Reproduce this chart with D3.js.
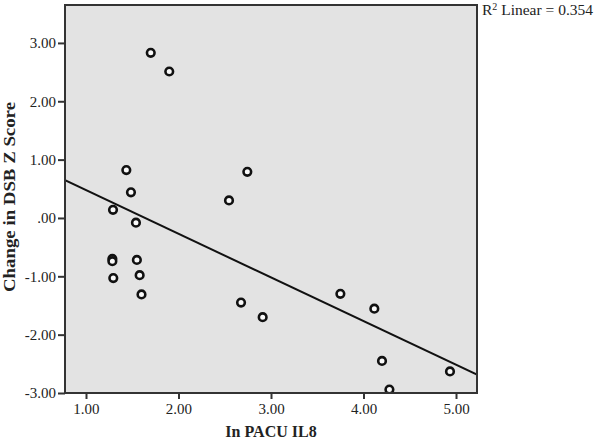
<!DOCTYPE html>
<html>
<head>
<meta charset="utf-8">
<script src="https://cdn.jsdelivr.net/npm/d3@7"></script>
<style>
  html, body { margin: 0; padding: 0; background: #fff; }
  svg { display: block; }
  text { font-family: "Liberation Serif", "DejaVu Serif", serif; fill: #222; }
</style>
</head>
<body>
<svg id="chart" width="600" height="442"></svg>
<script>
// ---- data ----
const xValues = [1.70, 1.90, 1.436, 2.744, 1.486, 2.546, 1.292, 1.54, 1.285, 1.285, 1.55,
                 1.295, 1.58, 1.60, 2.676, 2.91, 3.75, 4.117, 4.20, 4.28, 4.935];
const yValues = [2.83, 2.51, 0.82, 0.79, 0.44, 0.30, 0.14, -0.08, -0.70, -0.74, -0.72,
                 -1.03, -0.98, -1.31, -1.45, -1.70, -1.30, -1.555, -2.45, -2.94, -2.63];
const xTicks = [1, 2, 3, 4, 5];
const yTicks = [3, 2, 1, 0, -1, -2, -3];
const xTitle = "In PACU IL8";
const yTitle = "Change in DSB Z Score";
const r2Label = " Linear = 0.354";

// ---- layout ----
const svg = d3.select("#chart");
const pLeft = 65, pRight = 477, pTop = 5, pBottom = 393;

const x = d3.scaleLinear().domain([0.773, 5.227]).range([pLeft, pRight]);
const y = d3.scaleLinear().domain([-3, 3.65]).range([pBottom, pTop]);

const fmt = v => {
  if (v === 0) return ".00";
  return (v < 0 ? "-" : "") + Math.abs(v).toFixed(2);
};

// plot background
svg.append("rect")
  .attr("x", pLeft).attr("y", pTop)
  .attr("width", pRight - pLeft).attr("height", pBottom - pTop)
  .attr("fill", "#e3e3e3");

// clip
svg.append("clipPath").attr("id", "clip")
  .append("rect").attr("x", pLeft).attr("y", pTop)
  .attr("width", pRight - pLeft).attr("height", pBottom - pTop);

// regression line computed from the data
const n = xValues.length;
const mx = d3.mean(xValues), my = d3.mean(yValues);
let sxy = 0, sxx = 0;
for (let i = 0; i < n; i++) {
  sxy += (xValues[i] - mx) * (yValues[i] - my);
  sxx += (xValues[i] - mx) ** 2;
}
const slope = sxy / sxx, intercept = my - slope * mx;
const [dx0, dx1] = x.domain();
svg.append("line")
  .attr("clip-path", "url(#clip)")
  .attr("x1", x(dx0)).attr("y1", y(intercept + slope * dx0))
  .attr("x2", x(dx1)).attr("y2", y(intercept + slope * dx1))
  .attr("stroke", "#111").attr("stroke-width", 2);

// points
const pts = xValues.map((v, i) => ({ x: v, y: yValues[i] }));
svg.append("g").attr("clip-path", "url(#clip)")
  .selectAll("circle").data(pts).enter().append("circle")
  .attr("cx", d => x(d.x)).attr("cy", d => y(d.y))
  .attr("r", 3.8)
  .attr("fill", "#fafafa")
  .attr("stroke", "#111")
  .attr("stroke-width", 2.6);

// frame
svg.append("rect")
  .attr("x", pLeft).attr("y", pTop)
  .attr("width", pRight - pLeft).attr("height", pBottom - pTop)
  .attr("fill", "none").attr("stroke", "#333").attr("stroke-width", 2);

// axes
const xAxis = d3.axisBottom(x).tickValues(xTicks).tickFormat(fmt).tickSize(6).tickPadding(4);
const gx = svg.append("g").attr("transform", `translate(0,${pBottom})`).call(xAxis);
gx.select(".domain").remove();
gx.selectAll(".tick line").attr("stroke", "#333").attr("stroke-width", 2);
gx.selectAll(".tick text")
  .style("font-family", '"Liberation Serif", serif')
  .attr("font-size", 15).attr("fill", "#333");

const yAxis = d3.axisLeft(y).tickValues(yTicks).tickFormat(fmt).tickSize(7).tickPadding(2);
const gy = svg.append("g").attr("transform", `translate(${pLeft},0)`).call(yAxis);
gy.select(".domain").remove();
gy.selectAll(".tick line").attr("stroke", "#333").attr("stroke-width", 2);
gy.selectAll(".tick text")
  .style("font-family", '"Liberation Serif", serif')
  .attr("font-size", 15).attr("fill", "#333");

// axis titles
svg.append("text")
  .attr("x", (pLeft + pRight) / 2).attr("y", 437)
  .attr("text-anchor", "middle")
  .attr("font-size", 16).attr("font-weight", "bold")
  .text(xTitle);

svg.append("text")
  .attr("transform", `translate(15,${(pTop + pBottom) / 2 - 2}) rotate(-90)`)
  .attr("text-anchor", "middle")
  .attr("font-size", 16).attr("font-weight", "bold")
  .attr("textLength", 190).attr("lengthAdjust", "spacingAndGlyphs")
  .text(yTitle);

// R² label
const r2 = svg.append("text")
  .attr("x", 482).attr("y", 15)
  .attr("font-size", 15.5);
r2.append("tspan").text("R");
r2.append("tspan").attr("font-size", 10).attr("dy", -5).text("2");
r2.append("tspan").attr("dy", 5).text(r2Label);
</script>
</body>
</html>
